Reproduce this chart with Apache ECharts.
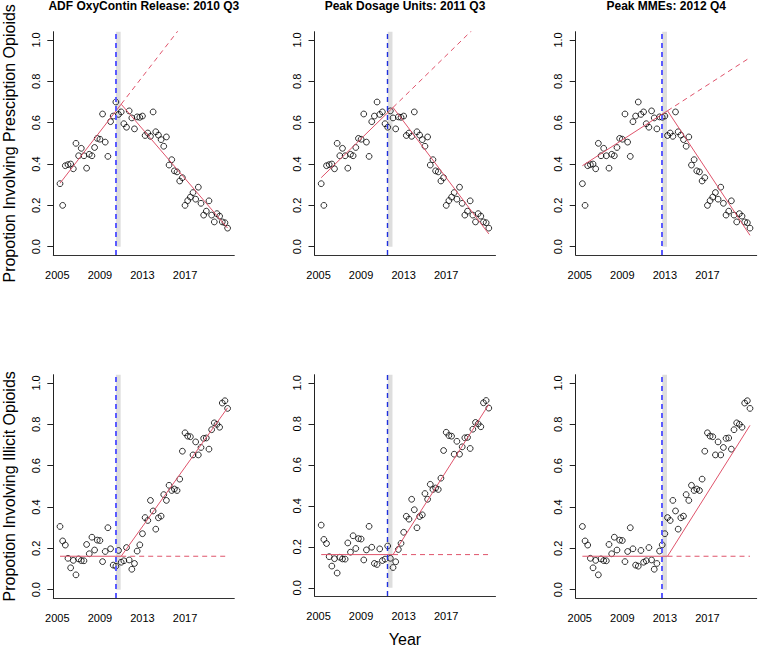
<!DOCTYPE html>
<html>
<head>
<meta charset="utf-8">
<script src="https://cdn.jsdelivr.net/npm/echarts@6/dist/echarts.min.js"></script>
<style>html,body{margin:0;padding:0;background:#fff}#c{width:758px;height:648px}</style>
</head>
<body>
<div id="c"></div>
<script>
// ---------- data ----------
// quarterly observations, 2005 Q2 .. 2021 Q1 (64 quarters)
const firstYear = 2005, firstQuarter = 2, nQuarters = 64;
const quarterLabels = [];
for (let k = 0; k < nQuarters; k++) {
  const q0 = firstQuarter - 1 + k;
  quarterLabels.push((firstYear + Math.floor(q0 / 4)) + ' Q' + (q0 % 4 + 1));
}
const xTickLabels = [2005, 2009, 2013, 2017];
const yTickLabels = [0.0, 0.2, 0.4, 0.6, 0.8, 1.0];

const panelTitles = ['ADF OxyContin Release: 2010 Q3', 'Peak Dosage Units: 2011 Q3', 'Peak MMEs: 2012 Q4'];
const breakQuarters = ['2010 Q3', '2011 Q3', '2012 Q4'];
const rowTitles = ['Propotion Involving Presciption Opioids', 'Propotion Involving Illicit Opioids'];
const xTitle = 'Year';

const prescriptionShare = [
  0.305, 0.200, 0.392, 0.397, 0.400, 0.377, 0.500, 0.440, 0.476, 0.440,
  0.380, 0.447, 0.440, 0.480, 0.524, 0.520, 0.642, 0.506, 0.437, 0.605,
  0.632, 0.700, 0.640, 0.652, 0.595, 0.578, 0.657, 0.623, 0.570, 0.628,
  0.626, 0.632, 0.538, 0.550, 0.534, 0.652, 0.556, 0.540, 0.518, 0.486,
  0.531, 0.395, 0.421, 0.367, 0.362, 0.318, 0.334, 0.200, 0.223, 0.240,
  0.262, 0.230, 0.288, 0.210, 0.153, 0.172, 0.222, 0.153, 0.120, 0.160,
  0.148, 0.120, 0.116, 0.090
];
const illicitShare = [
  0.306, 0.236, 0.216, 0.152, 0.106, 0.142, 0.072, 0.149, 0.141, 0.140,
  0.219, 0.174, 0.254, 0.192, 0.240, 0.238, 0.136, 0.185, 0.300, 0.198,
  0.119, 0.114, 0.190, 0.133, 0.140, 0.204, 0.144, 0.099, 0.127, 0.187,
  0.217, 0.271, 0.349, 0.335, 0.432, 0.381, 0.293, 0.348, 0.356, 0.460,
  0.432, 0.505, 0.480, 0.487, 0.480, 0.535, 0.670, 0.759, 0.743, 0.740,
  0.652, 0.715, 0.652, 0.688, 0.732, 0.734, 0.680, 0.774, 0.807, 0.800,
  0.786, 0.903, 0.914, 0.877
];

// segmented-regression fits (one per column)
const rxPreStart  = [0.307, 0.334, 0.392];   // fitted value at first quarter
const rxPreSlope  = [0.0665, 0.0503, 0.0332]; // per year
const rxPostEnd   = [0.090, 0.062, 0.055];   // fitted value at last quarter
const ilPreStart  = [0.162, 0.162, 0.162];
const ilPreSlope  = [0.0, 0.0, 0.0];
const ilPostEnd   = [0.880, 0.895, 0.795];
const transitionYears = 0.5;   // post-period fit starts two quarters after break
const bandYears = 0.45;

// ---------- helpers ----------
function qToX(label) {
  const [y, q] = label.split(' Q');
  return +y + (+q - 1) / 4;
}
const xs = quarterLabels.map(qToX);
const x0 = xs[0], x1 = xs[xs.length - 1];
const span = x1 - x0;
const xMin = x0 - 0.04 * span, xMax = x1 + 0.04 * span;

const RED = '#DF536B';
const FONT = 'Liberation Sans, Arial, Helvetica, sans-serif';
const gridW = 181, gridH = 223.3, gridL0 = 53.3, gridDX = 261.2, gridT0 = 31.7, gridDY = 343;
const vlineColor = ['#5a5aff', '#1f30dd', '#5a5aff'];
const vlineWidth = [2, 1.4, 2];

const grids = [], xAxes = [], yAxes = [], series = [], titles = [];

for (let r = 0; r < 2; r++) {
  for (let c = 0; c < 3; c++) {
    const idx = r * 3 + c;
    grids.push({ left: gridL0 + c * gridDX, top: gridT0 + r * gridDY, width: gridW, height: gridH });
    xAxes.push({
      gridIndex: idx, type: 'value', min: xMin, max: xMax,
      axisLine: { show: true, onZero: false, lineStyle: { color: '#333', width: 1 } },
      axisTick: { show: false },
      splitLine: { show: false },
      axisLabel: { customValues: xTickLabels, fontSize: 11, color: '#000', margin: 14, fontFamily: FONT,
                   formatter: v => String(v) },
      name: (r === 1 && c === 1) ? xTitle : '',
      nameLocation: 'middle', nameGap: 35,
      nameTextStyle: { fontSize: 16, color: '#000', fontFamily: FONT }
    });
    yAxes.push({
      gridIndex: idx, type: 'value', min: -0.04, max: 1.04,
      axisLine: { show: true, lineStyle: { color: '#222', width: 1 } },
      axisTick: { show: true, customValues: yTickLabels, length: 6, lineStyle: { color: '#222' } },
      splitLine: { show: false },
      axisLabel: { customValues: yTickLabels, rotate: 90, fontSize: 11, color: '#000', margin: 12, fontFamily: FONT,
                   formatter: v => v.toFixed(1) },
      name: c === 0 ? rowTitles[r] : '',
      nameLocation: 'middle', nameRotate: 90, nameGap: 36,
      nameTextStyle: { fontSize: 16, color: '#000', fontFamily: FONT }
    });

    const vals = r === 0 ? prescriptionShare : illicitShare;
    const preStart = r === 0 ? rxPreStart[c] : ilPreStart[c];
    const preSlope = r === 0 ? rxPreSlope[c] : ilPreSlope[c];
    const postEnd = r === 0 ? rxPostEnd[c] : ilPostEnd[c];
    const bp = qToX(breakQuarters[c]);
    const ps = bp + transitionYears;
    const pre = x => preStart + preSlope * (x - x0);

    // band + vertical break line
    series.push({
      type: 'line', xAxisIndex: idx, yAxisIndex: idx, data: [], silent: true, z: 1,
      markArea: { silent: true, itemStyle: { color: '#dedede' },
        data: [[{ xAxis: bp, yAxis: 0 }, { xAxis: bp + bandYears, yAxis: 1.04 }]] },
      markLine: { silent: true, symbol: 'none', label: { show: false },
        lineStyle: { color: vlineColor[c], width: vlineWidth[c], type: [5, 4] },
        data: [{ xAxis: bp }] }
    });
    // points
    series.push({
      type: 'scatter', xAxisIndex: idx, yAxisIndex: idx, z: 3,
      data: xs.map((x, i) => [x, vals[i]]),
      symbol: 'circle', symbolSize: 5.8,
      itemStyle: { color: 'rgba(0,0,0,0)', borderColor: '#000', borderWidth: 1 },
      silent: true
    });
    // pre-period fit (solid)
    series.push({
      type: 'line', xAxisIndex: idx, yAxisIndex: idx, z: 4, showSymbol: false, silent: true,
      data: [[x0, pre(x0)], [ps, pre(ps)]],
      lineStyle: { color: RED, width: 1 }
    });
    // counterfactual extension (dashed)
    series.push({
      type: 'line', xAxisIndex: idx, yAxisIndex: idx, z: 4, showSymbol: false, silent: true, clip: true,
      data: [[ps, pre(ps)], [x1, pre(x1)]],
      lineStyle: { color: RED, width: 1, type: [5, 4] }
    });
    // post-period fit (solid)
    series.push({
      type: 'line', xAxisIndex: idx, yAxisIndex: idx, z: 4, showSymbol: false, silent: true,
      data: [[ps, pre(ps)], [x1, postEnd]],
      lineStyle: { color: RED, width: 1 }
    });
  }
}
for (let c = 0; c < 3; c++) {
  titles.push({
    text: panelTitles[c], left: gridL0 + c * gridDX + gridW / 2, top: 0, textAlign: 'center', padding: 0,
    textStyle: { fontSize: 12, fontWeight: 'bold', color: '#000', fontFamily: FONT }
  });
}

const chart = echarts.init(document.getElementById('c'), null, { renderer: 'svg' });
chart.setOption({
  animation: false,
  backgroundColor: '#fff',
  title: titles,
  grid: grids,
  xAxis: xAxes,
  yAxis: yAxes,
  series: series
});
</script>
</body>
</html>
